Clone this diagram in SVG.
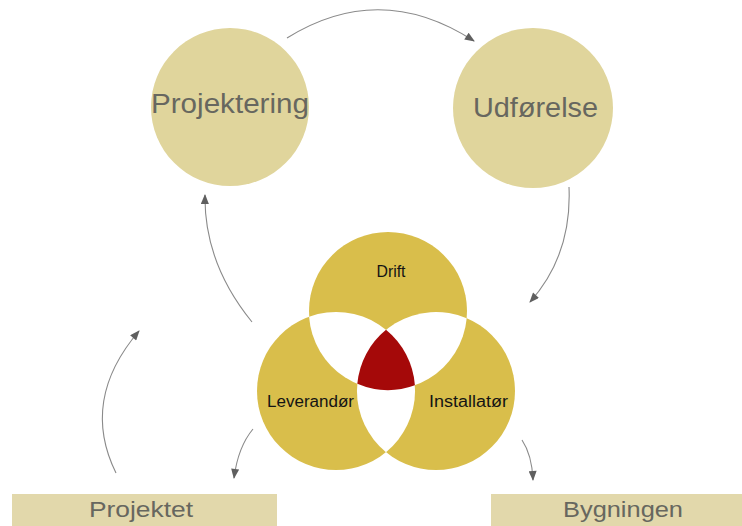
<svg xmlns="http://www.w3.org/2000/svg" width="742" height="526" viewBox="0 0 742 526">
  <style>
    .phase { fill: #e0d59c; }
    .set { fill: #d9be4b; }
    .lens { fill: #ffffff; }
    .core { fill: #a50909; }
    .box { fill: #e2d8ab; }
    .big { font-family: "Liberation Sans", Arial, sans-serif; fill: #67675f; }
    .small { font-family: "Liberation Sans", Arial, sans-serif; fill: #141414; font-size: 16px; }
    .flow { fill: none; stroke: #8a8a8a; stroke-width: 1.1; marker-end: url(#head); }
  </style>
  <defs>
    <marker id="head" viewBox="0 0 10 8" refX="9" refY="4" markerWidth="11" markerHeight="8" markerUnits="userSpaceOnUse" orient="auto">
      <path d="M0,0 L10,4 L0,8 Z" fill="#5f5f5f"/>
    </marker>
  </defs>

  <rect width="742" height="526" fill="#ffffff"/>

  <!-- connectors -->
  <g id="connectors">
    <path class="flow" d="M287,38 Q380,-20 474,41"/>
    <path class="flow" d="M569,187 Q572,255 530,302"/>
    <path class="flow" d="M252,322 Q204,263 205,195"/>
    <path class="flow" d="M116,473 Q80,400 139,331"/>
    <path class="flow" d="M253,429 Q238,447 234,478"/>
    <path class="flow" d="M522,440 Q532,455 533,480"/>
  </g>

  <g id="projektering">
    <circle class="phase" cx="230" cy="107" r="79"/>
    <text class="big" x="230" y="113" font-size="27" text-anchor="middle" textLength="158" lengthAdjust="spacingAndGlyphs">Projektering</text>
  </g>

  <g id="udfoerelse">
    <circle class="phase" cx="533" cy="108" r="80"/>
    <text class="big" x="535.5" y="117" font-size="27" text-anchor="middle" textLength="125" lengthAdjust="spacingAndGlyphs">Udførelse</text>
  </g>

  <!-- three overlapping sets -->
  <g id="venn">
    <g id="drift">
      <circle class="set" cx="388" cy="311" r="79"/>
    </g>
    <g id="leverandoer">
      <circle class="set" cx="336" cy="391" r="79"/>
    </g>
    <g id="installatoer">
      <circle class="set" cx="436" cy="391" r="79"/>
    </g>
    <g id="overlaps">
      <path class="lens" d="M309.1,316.7 A79,79 0 0 0 414.9,385.3 A79,79 0 0 0 309.1,316.7 Z"/>
      <path class="lens" d="M466.7,318.2 A79,79 0 0 1 357.3,383.8 A79,79 0 0 1 466.7,318.2 Z"/>
      <path class="lens" d="M386,329.8 A79,79 0 0 1 386,452.2 A79,79 0 0 1 386,329.8 Z"/>
      <path class="core" d="M386,329.8 A79,79 0 0 1 414.9,385.3 A79,79 0 0 1 357.3,383.8 A79,79 0 0 1 386,329.8 Z"/>
    </g>
    <text class="small" x="391" y="277" text-anchor="middle" textLength="29" lengthAdjust="spacingAndGlyphs">Drift</text>
    <text class="small" x="310.5" y="407" text-anchor="middle" textLength="87" lengthAdjust="spacingAndGlyphs">Leverandør</text>
    <text class="small" x="468.5" y="407" text-anchor="middle" textLength="79" lengthAdjust="spacingAndGlyphs">Installatør</text>
  </g>

  <g id="projektet">
    <rect class="box" x="12" y="494" width="265" height="32"/>
    <text class="big" x="141" y="517" font-size="22" text-anchor="middle" textLength="104" lengthAdjust="spacingAndGlyphs">Projektet</text>
  </g>

  <g id="bygningen">
    <rect class="box" x="491" y="494" width="251" height="32"/>
    <text class="big" x="623" y="517" font-size="22" text-anchor="middle" textLength="120" lengthAdjust="spacingAndGlyphs">Bygningen</text>
  </g>
</svg>
